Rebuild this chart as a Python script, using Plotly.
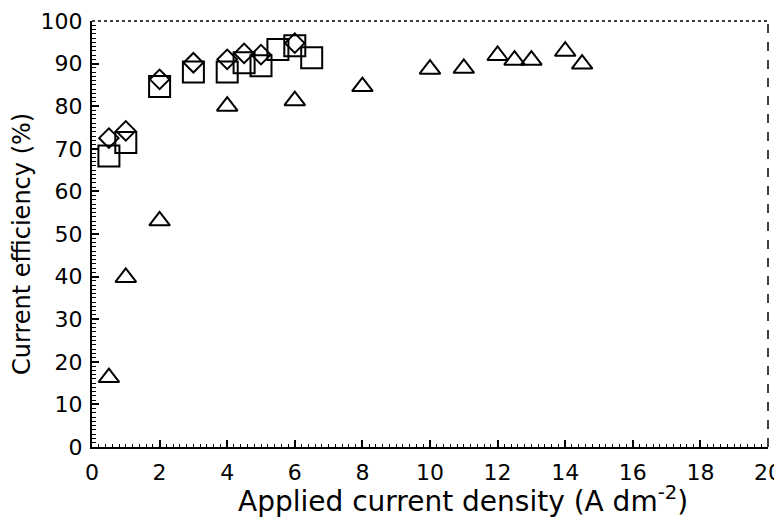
import plotly.graph_objects as go

# Series
tri_x = [0.5, 1, 2, 4, 6, 8, 10, 11, 12, 12.5, 13, 14, 14.5]
tri_y = [16.3, 39.8, 53.1, 80.0, 81.3, 84.6, 88.7, 88.9, 91.9, 90.8, 90.8, 92.9, 89.9]

dia_x = [0.5, 1, 2, 3, 4, 4.5, 5, 6]
dia_y = [72.5, 74.2, 86.3, 90.2, 91.0, 92.4, 92.1, 94.8]

sq_x = [0.5, 1, 2, 3, 4, 4.5, 5, 5.5, 6, 6.5]
sq_y = [68.3, 71.5, 84.6, 88.0, 88.0, 90.2, 89.5, 93.3, 94.2, 91.4]

x_ticks = [0, 2, 4, 6, 8, 10, 12, 14, 16, 18, 20]
y_ticks = [0, 10, 20, 30, 40, 50, 60, 70, 80, 90, 100]

x_title = "Applied current density (A dm<sup>-2</sup>)"
y_title = "Current efficiency (%)"

FONT = "DejaVu Sans"

fig = go.Figure()

def add(xs, ys, symbol, size):
    fig.add_trace(go.Scatter(
        x=xs, y=ys, mode="markers",
        marker=dict(symbol=symbol, size=size, color="black",
                    line=dict(color="black", width=2)),
        showlegend=False, cliponaxis=False))

add(tri_x, tri_y, "triangle-up-open", 18)
add(dia_x, dia_y, "diamond-open", 15)
add(sq_x, sq_y, "square-open", 21)

axis_common = dict(
    showgrid=False, zeroline=False, showline=True, linecolor="black", linewidth=2,
    ticks="inside", ticklen=7, tickwidth=1.5, tickcolor="black",
    tickfont=dict(family=FONT, size=22, color="black"),
    mirror=False, automargin=False,
)

fig.update_xaxes(
    **axis_common, range=[0, 20], tickvals=x_ticks, ticktext=[str(v) for v in x_ticks],
    minor=dict(dtick=0.2, ticks="inside", ticklen=3.5, tickwidth=1.2, tickcolor="black"),
    ticklabelstandoff=5,
)
fig.update_yaxes(
    **axis_common, range=[0, 100], tickvals=y_ticks, ticktext=[str(v) for v in y_ticks],
    minor=dict(dtick=1, ticks="inside", ticklen=3.5, tickwidth=1.2, tickcolor="black"),
    ticklabelstandoff=3,
)

# axis titles placed as in the reference (slightly off-centre)
fig.add_annotation(text=x_title, xref="paper", yref="paper", x=0.549, y=-0.124,
                   xanchor="center", yanchor="middle", showarrow=False,
                   font=dict(family=FONT, size=28, color="black"))
fig.add_annotation(text=y_title, xref="paper", yref="paper", x=-0.1036, y=0.4765,
                   xanchor="center", yanchor="middle", showarrow=False, textangle=-90,
                   font=dict(family=FONT, size=24, color="black"))

# top and right frame lines (light, broken as in the scan)
fig.add_shape(type="line", xref="paper", yref="paper", x0=0, x1=1, y0=1, y1=1,
              line=dict(color="black", width=1.5, dash="dot"))
fig.add_shape(type="line", xref="paper", yref="paper", x0=1, x1=1, y0=0, y1=1,
              line=dict(color="black", width=1.5, dash="dash"))

# the page body adds an 8px offset; size the figure so the plot area lands in place
fig.update_layout(
    width=774, height=517,
    margin=dict(l=84, r=14, t=13, b=78),
    paper_bgcolor="white", plot_bgcolor="white",
    font=dict(family=FONT, color="black"),
)

fig.write_html("out.html")
